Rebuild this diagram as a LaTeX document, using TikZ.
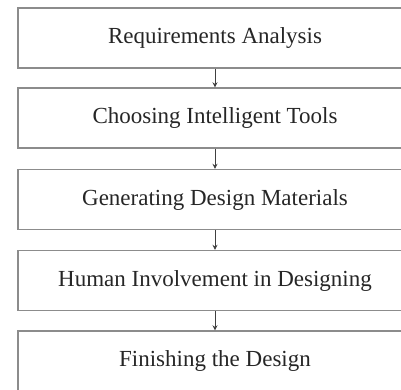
\documentclass[tikz,border=0pt]{standalone}
\usepackage{fontspec}
\setmainfont{Liberation Serif}
\usetikzlibrary{arrows.meta}
\begin{document}
\begin{tikzpicture}[x=1pt,y=1pt,
  stagebox/.style={draw=black!45, line width=1.4pt, minimum width=394pt, minimum height=60pt,
    inner sep=0pt, font=\fontsize{23}{27}\selectfont, text=black!85},
  flow/.style={draw=black!75, line width=0.8pt, -{Stealth[length=5pt,width=5pt]}}]
\useasboundingbox (0,0) rectangle (401,-389);
\node[stagebox] (s1) at (215,-38)  {Requirements Analysis};
\node[stagebox] (s2) at (215,-118) {Choosing Intelligent Tools};
\node[stagebox] (s3) at (215,-199.5) {Generating Design Materials};
\node[stagebox] (s4) at (215,-280.5) {Human Involvement in Designing};
\node[stagebox] (s5) at (215,-361) {Finishing the Design};
\draw[flow] (s1) -- (s2);
\draw[flow] (s2) -- (s3);
\draw[flow] (s3) -- (s4);
\draw[flow] (s4) -- (s5);
\end{tikzpicture}
\end{document}
